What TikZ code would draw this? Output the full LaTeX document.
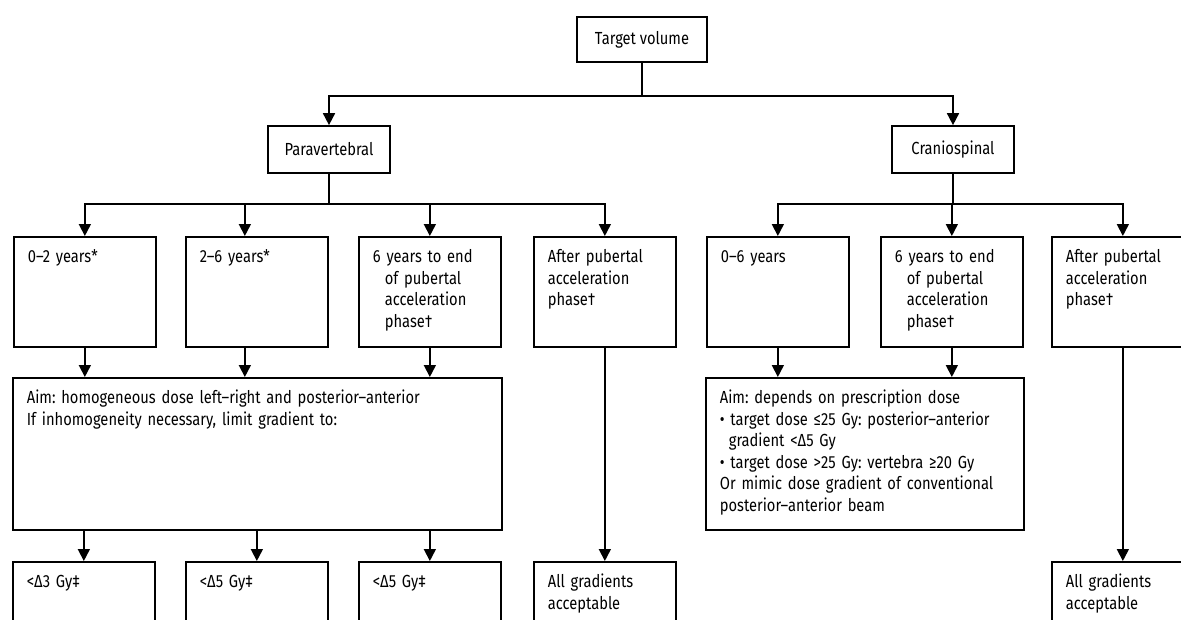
\documentclass[tikz,border=0pt]{standalone}
\usepackage{fontspec}
\setmainfont{Fira Sans}[FakeStretch=0.84]
\usepackage{tikz}
\usetikzlibrary{arrows.meta}
\frenchspacing

\begin{document}
\begin{tikzpicture}[x = 1pt, y = -1pt, line width = 1.7pt,
    hbox/.style = {rectangle, draw, inner sep = 0pt, font = \fontsize{17.5}{21.5}\selectfont},
    tbox/.style = {rectangle, draw, anchor = north west, align = left, inner xsep = 14pt,
        inner ysep = 0pt, text height = 26pt, font = \fontsize{17.5}{21.5}\selectfont},
    rbox/.style = {tbox, text width = 114pt, text depth = 84pt},
    lbox/.style = {tbox, text width = 114pt, text depth = 54pt},
    arr/.style = {-{Triangle[length = 12pt, width = 12pt]}}]
\useasboundingbox (0,0) rectangle (1181,619);

\draw (642,39.5) node[hbox, minimum width = 130pt, minimum height = 45pt](tv){Target volume}
    (329,149.5) node[hbox, minimum width = 122pt, minimum height = 47pt](pv){Paravertebral}
    (953,149.5) node[hbox, minimum width = 122pt, minimum height = 47pt](cs){Craniospinal};

% age groups
\draw (13,236) node[rbox](p02){0–2 years*}
    (185,236) node[rbox](p26){2–6 years*}
    (358,236) node[rbox](p6e){6 years to end\\\hspace*{12pt}of pubertal\\\hspace*{12pt}acceleration\\\hspace*{12pt}phase†}
    (533,236) node[rbox](pap){After pubertal\\acceleration\\phase†}
    (706,236) node[rbox](c06){0–6 years}
    (880,236) node[rbox](c6e){6 years to end\\\hspace*{12pt}of pubertal\\\hspace*{12pt}acceleration\\\hspace*{12pt}phase†}
    (1051,236) node[rbox](cap){After pubertal\\acceleration\\phase†};

% aims
\draw (12,377) node[tbox, text width = 461pt, text depth = 126pt](aimp){Aim: homogeneous dose left–right and posterior–anterior\\If inhomogeneity necessary, limit gradient to:}
    (705,377) node[tbox, text width = 290pt, text depth = 126pt](aimc){Aim: depends on prescription dose\\• target dose ≤25 Gy: posterior–anterior\\\hspace*{9pt}gradient <Δ5 Gy\\• target dose >25 Gy: vertebra ≥20 Gy\\Or mimic dose gradient of conventional\\posterior–anterior beam};

% gradients
\draw (12,561) node[lbox](d3){<Δ3 Gy‡}
    (185,561) node[lbox](d5a){<Δ5 Gy‡}
    (358,561) node[lbox](d5b){<Δ5 Gy‡}
    (533,561) node[lbox](ag1){All gradients\\acceptable}
    (1051,561) node[lbox](ag2){All gradients\\acceptable};

\coordinate (j1) at (642,96);
\coordinate (j2) at (329,204);
\coordinate (j3) at (953,204);

\draw (tv) -- (j1);
\draw [arr] (j1) -| (pv);
\draw [arr] (j1) -| (cs);

\draw (pv) -- (j2);
\draw [arr] (j2) -| (p02);
\draw [arr] (j2) -| ([xshift=-12pt]p26.north);
\draw [arr] (j2) -| (p6e);
\draw [arr] (j2) -| (pap);
\draw [arr] (p02) -- (p02 |- aimp.north);
\draw [arr] ([xshift=-12pt]p26.south) -- ([xshift=-12pt]p26.south |- aimp.north);
\draw [arr] (p6e) -- (p6e |- aimp.north);
\draw [arr] (aimp.south -| d3) -- (d3);
\draw [arr] (aimp.south -| d5a) -- (d5a);
\draw [arr] (aimp.south -| d5b) -- (d5b);
\draw [arr] (pap) -- (ag1);

\draw (cs) -- (j3);
\draw [arr] (j3) -| (c06);
\draw [arr] (j3) -| (c6e);
\draw [arr] (j3) -| (cap);
\draw [arr] (c06) -- (c06 |- aimc.north);
\draw [arr] (c6e) -- (c6e |- aimc.north);
\draw [arr] (cap) -- (ag2);
\end{tikzpicture}
\end{document}
